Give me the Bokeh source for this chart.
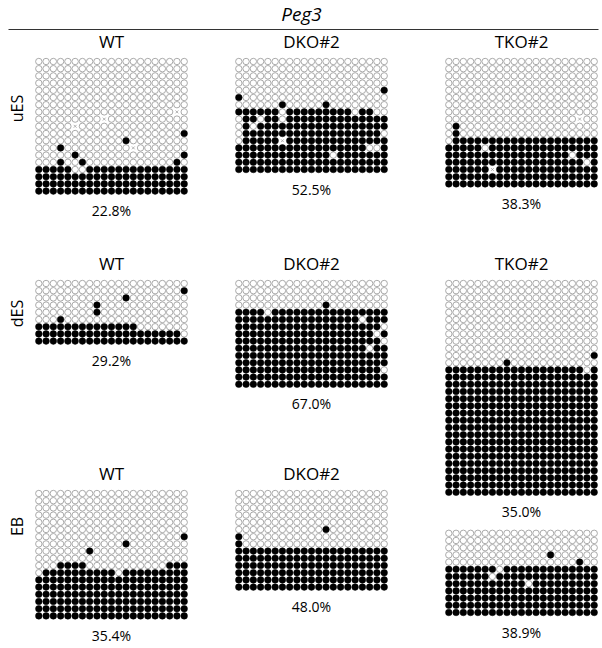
from bokeh.plotting import figure
from bokeh.models import Range1d
from bokeh.embed import file_html
from bokeh.resources import INLINE
from bokeh.core.properties import value
import math

gene = "Peg3"
row_labels = ["uES", "dES", "EB"]
col_labels = ["WT", "DKO#2", "TKO#2"]
percents = [["22.8%", "52.5%", "38.3%"],
            ["29.2%", "67.0%", "35.0%"],
            ["35.4%", "48.0%", "38.9%"]]

# '1' = methylated CpG (filled), '0' = unmethylated (open), 'x' = not determined
uES_WT = [
    "000000000000000000000", "000000000000000000000", "000000000000000000000",
    "000000000000000000000", "000000000000000000000", "000000000000000000000",
    "000000000000000000000", "0000000000000000000x0", "000000000x00000000000",
    "00000x000000000000000", "000000000000000000001", "000000000000100000000",
    "0001000000000x0000000", "000001000000000000001", "000100100000000000010",
    "111110011111111111111", "111111111111111111111", "111111111111111111111",
    "111111111111111111111",
]
uES_DKO = [
    "000000000000000000000", "000000000000000000000", "000000000000000000000",
    "000000000000000000000", "000000000000000000001", "100000000000000000000",
    "000000100000100000000", "111111011111111101100", "011011011111111111111",
    "010111111111111111111", "011111111111111111110", "011111x11111111111111",
    "111111111111111111001", "111111111111101111111", "111111111111111111111",
    "111111111111111111111",
]
uES_TKO = [
    "000000000000000000000", "000000000000000000000", "000000000000000000000",
    "000000000000000000000", "000000000000000000000", "000000000000000000000",
    "000000000000000000000", "000000000000000000000", "000000000000000000x00",
    "010000000000000000000", "010000000000000000000", "011111111111111111111",
    "111110111111111111111", "111111111111111110111", "111111111111111111101",
    "111111x11111111111111", "111111111111111111111", "111111111111111111111",
]
dES_WT = [
    "000000000000000000000", "000000000000000000001", "000000000000100000000",
    "000000001000000000000", "000000001000000000000", "000100000000000000000",
    "111111111111110000000", "111111111111111111110", "111111111111111111111",
]
dES_DKO = [
    "000000000000000000000", "000000000000000000000", "000000000000000000000",
    "000000000000100000000", "111101111111111111111", "111111111111111110111",
    "111111111111111111110", "111111111111111111101", "111111111111111111110",
    "111111111111111111011", "111111111111111111111", "111111111111111111111",
    "111111111111111111110", "111111111111111111111", "111111111111111111111",
]
dES_TKO = [
    "000000000000000000000", "000000000000000000000", "000000000000000000000",
    "000000000000000000000", "000000000000000000000", "000000000000000000000",
    "000000000000000000000", "000000000000000000000", "000000000000000000000",
    "000000000000000000000", "000000000000000000001", "000000001000000000000",
    "111111111111111111101", "111111111111111111111", "111111111111111111111",
    "111111111111111111111", "111111111111111111111", "111111111111111111111",
    "111111111111111111111", "111111111111111111111", "111111111111111111111",
    "111111111111111111111", "111111111111111111111", "111111111111111111111",
    "111111111111111111111", "111111111111111111111", "111111111111111111111",
    "111111111111111111111", "111111111111111111111", "111111111111111111111",
]
EB_WT = [
    "000000000000000000000", "000000000000000000000", "000000000000000000000",
    "000000000000000000000", "000000000000000000000", "000000000000000000000",
    "000000000000000000001", "000000000000100000000", "000000010000000000000",
    "000000000000000000000", "000111100000000000111", "011111111110111111111",
    "111111111111111111111", "111111111111111111111", "111111111111111111111",
    "111111111111111111111", "111111111111111111111", "111111111111111111111",
]
EB_DKO = [
    "000000000000000000000", "000000000000000000000", "000000000000000000000",
    "000000000000000000000", "000000000000000000000", "000000000000100000000",
    "100000000000000000000", "100000000000000000000", "111111111111111111111",
    "111111111111111111111", "111111111111111111111", "111111111111111111111",
    "111111111111111111111", "111111111111111111111",
]
EB_TKO = [
    "000000000000000000000", "000000000000000000000", "000000000000000000000",
    "000000000000001000000", "000000000000000000100", "111111101111111111111",
    "111111011111111111111", "111111111110111111111", "111111111111111111111",
    "111111111111111111111", "111111111111111111111", "111111111111111111111",
]

grids = [[uES_WT, uES_DKO, uES_TKO],
         [dES_WT, dES_DKO, dES_TKO],
         [EB_WT, EB_DKO, EB_TKO]]
# the EB TKO#2 panel title is hidden under the tall dES TKO#2 panel in the original
show_title = [[True, True, True], [True, True, True], [True, True, False]]

W, H = 602, 648
p = figure(width=W, height=H, output_backend="svg", toolbar_location=None,
           x_range=Range1d(0, W), y_range=Range1d(H, 0),
           x_axis_location=None, y_axis_location=None, min_border=0)
p.grid.visible = False
p.outline_line_color = None

FONT = "Open Sans"

# layout (page pixel coordinates)
col_x0 = [38.3, 238.3, 448.3]
col_step = 7.27
row_step = 7.2
panel_top = [[61, 61, 61], [283, 283, 283], [493, 493, 532.8]]

fx, fy, ox, oy, mx, my = [], [], [], [], [], []
tx, ty, tt = [], [], []
px, py, pt = [], [], []
for r in range(3):
    for c in range(3):
        g = grids[r][c]
        x0 = col_x0[c]
        y0 = panel_top[r][c]
        for i, row in enumerate(g):
            for j, ch in enumerate(row):
                x = x0 + j * col_step
                y = y0 + i * row_step
                if ch == "1":
                    fx.append(x); fy.append(y)
                elif ch == "0":
                    ox.append(x); oy.append(y)
                else:
                    mx.append(x); my.append(y)
        cx = x0 + (len(g[0]) - 1) * col_step / 2
        if show_title[r][c]:
            tx.append(cx); ty.append(y0 - 20); tt.append(col_labels[c])
        px.append(cx); py.append(y0 + (len(g) - 1) * row_step + 19.5)
        pt.append(percents[r][c])

p.scatter(ox, oy, size=6.4, marker="circle", fill_color="white",
          line_color="#a0a0a0", line_width=0.9)
p.scatter(fx, fy, size=6.6, marker="circle", fill_color="black",
          line_color="black", line_width=0.5)
p.scatter(mx, my, size=4, marker="x", line_color="#a0a0a0", line_width=0.8)

p.text(tx, ty, text=tt, text_font=value(FONT), text_font_size="17px",
       text_align="center", text_baseline="middle", text_color="black")
p.text(px, py, text=pt, text_font=value(FONT), text_font_size="14px",
       text_align="center", text_baseline="middle", text_color="black")

rl_y = [108, 313, 526]
p.text([16] * 3, rl_y, text=row_labels, angle=math.pi / 2,
       text_font=value(FONT), text_font_size="16px",
       text_align="center", text_baseline="middle", text_color="black")

p.text([301], [13], text=[gene], text_font=value(FONT), text_font_size="19px",
       text_font_style="italic", text_align="center", text_baseline="middle",
       text_color="black")
p.segment([8], [29], [598], [29], line_color="#333333", line_width=1.2)

open("out.html", "w").write(file_html(p, INLINE))
